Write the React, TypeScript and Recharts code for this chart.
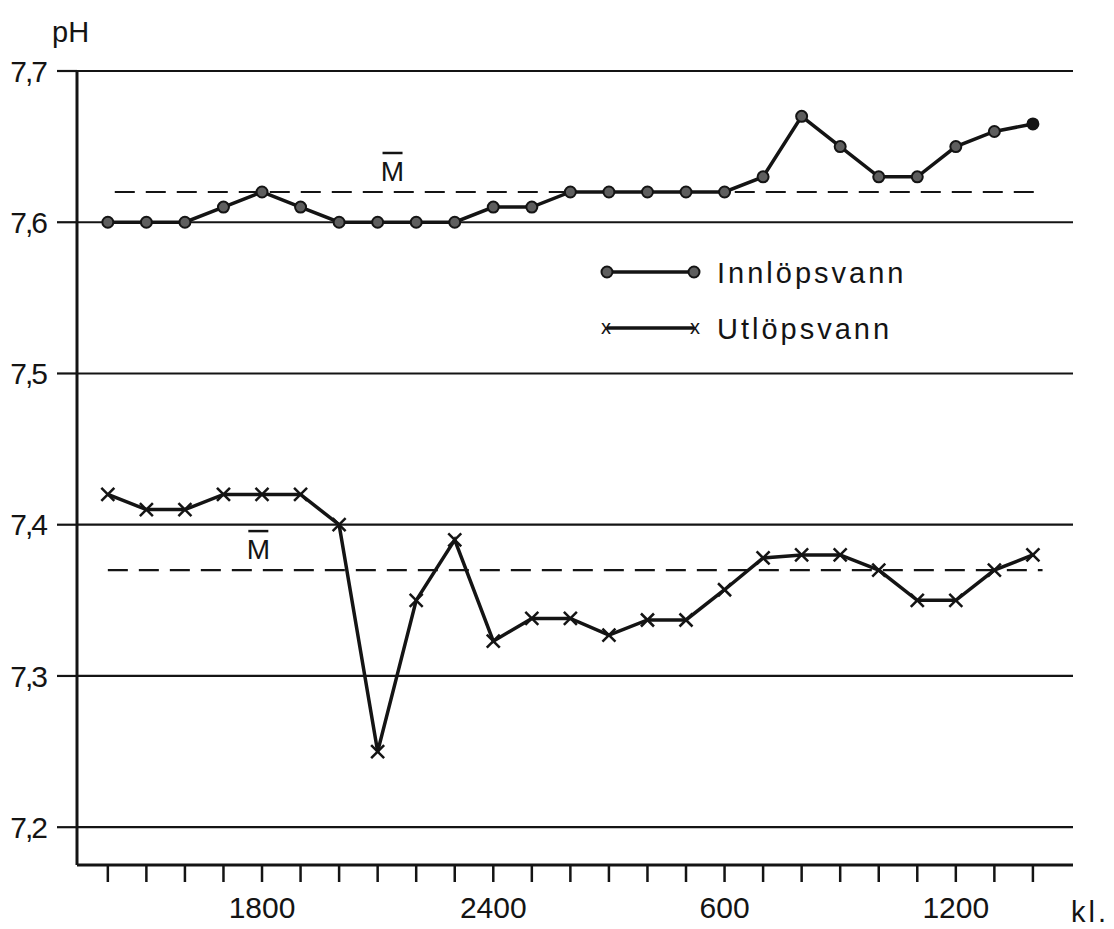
import React from 'react';
import { LineChart, Line, XAxis, YAxis, CartesianGrid, ReferenceLine, Legend } from 'recharts';

// hourly samples, kl. 1400 one day to kl. 1400 the next
const hours = [
  '1400', '1500', '1600', '1700', '1800', '1900', '2000', '2100', '2200', '2300', '2400',
  '100', '200', '300', '400', '500', '600', '700', '800', '900', '1000', '1100', '1200', '1300', '1400',
];
const labelledHours = ['1800', '2400', '600', '1200'];

const innlop = [
  7.60, 7.60, 7.60, 7.61, 7.62, 7.61, 7.60, 7.60, 7.60, 7.60, 7.61, 7.61, 7.62,
  7.62, 7.62, 7.62, 7.62, 7.63, 7.67, 7.65, 7.63, 7.63, 7.65, 7.66, 7.665,
];
const utlop = [
  7.42, 7.41, 7.41, 7.42, 7.42, 7.42, 7.40, 7.25, 7.35, 7.39, 7.323, 7.338, 7.338,
  7.327, 7.337, 7.337, 7.357, 7.378, 7.38, 7.38, 7.37, 7.35, 7.35, 7.37, 7.38,
];
const seriesNames = ['Innlöpsvann', 'Utlöpsvann'];
const meanInnlop = 7.62;
const meanUtlop = 7.37;
const yTicks = [7.2, 7.3, 7.4, 7.5, 7.6, 7.7];

const data = hours.map((h, i) => ({ x: i, hour: h, innlop: innlop[i], utlop: utlop[i] }));

const INK = '#141414';
const FONT = '"Liberation Sans", Arial, sans-serif';

const CircleDot = (props: any) => {
  const { cx, cy, index } = props;
  if (cx == null || cy == null) return null;
  const last = index === innlop.length - 1;
  return <circle key={`c${index}`} cx={cx} cy={cy} r={5.5} fill={last ? INK : '#5e5e5e'} stroke={INK} strokeWidth={2} />;
};

const CrossDot = (props: any) => {
  const { cx, cy, index } = props;
  if (cx == null || cy == null) return null;
  const s = 6.5;
  return (
    <g key={`x${index}`}>
      <line x1={cx - s} y1={cy - s} x2={cx + s} y2={cy + s} stroke={INK} strokeWidth={2.5} />
      <line x1={cx - s} y1={cy + s} x2={cx + s} y2={cy - s} stroke={INK} strokeWidth={2.5} />
    </g>
  );
};

const MeanLabel = (props: any) => {
  const { viewBox, frac } = props;
  if (!viewBox) return null;
  const cx = viewBox.x + viewBox.width * frac;
  const y = viewBox.y - 11;
  return (
    <g>
      <line x1={cx - 10} x2={cx + 10} y1={y - 28} y2={y - 28} stroke={INK} strokeWidth={2.5} />
      <text x={cx} y={y} textAnchor="middle" fontFamily={FONT} fontSize={28} fill={INK}>M</text>
    </g>
  );
};

const PhLabel = (props: any) => {
  const { viewBox } = props;
  if (!viewBox) return null;
  return (
    <text x={viewBox.x + 52} y={viewBox.y - 29} fontFamily={FONT} fontSize={29} fill={INK}>pH</text>
  );
};

const KlLabel = (props: any) => {
  const { viewBox } = props;
  if (!viewBox) return null;
  return (
    <text x={viewBox.x + viewBox.width - 2} y={viewBox.y + 57} fontFamily={FONT} fontSize={29} letterSpacing={3} fill={INK}>kl.</text>
  );
};

const renderLegend = () => (
  <svg width={330} height={100}>
    {seriesNames.map((name, i) => {
      const y = 24 + i * 56;
      return (
        <g key={name}>
          <line x1={9} x2={96} y1={y} y2={y} stroke={INK} strokeWidth={3.5} />
          {i === 0 ? (
            <>
              <circle cx={9} cy={y} r={5.5} fill="#5e5e5e" stroke={INK} strokeWidth={2} />
              <circle cx={96} cy={y} r={5.5} fill="#5e5e5e" stroke={INK} strokeWidth={2} />
            </>
          ) : (
            <>
              <text x={8} y={y + 6} textAnchor="middle" fontFamily={FONT} fontSize={20} fill={INK}>x</text>
              <text x={97} y={y + 6} textAnchor="middle" fontFamily={FONT} fontSize={20} fill={INK}>x</text>
            </>
          )}
          <text x={119} y={y + 11} fontFamily={FONT} fontSize={29} letterSpacing={3} fill={INK}>{name}</text>
        </g>
      );
    })}
  </svg>
);

export default function App() {
  return (
    <div style={{ position: 'absolute', left: 0, top: 0, background: '#fff' }}>
      <LineChart width={1114} height={929} data={data} margin={{ top: 71, right: 41, left: 0, bottom: 14 }}>
        <CartesianGrid yAxisId="l" vertical={false} stroke={INK} strokeWidth={2.2} />
        <XAxis
          dataKey="x"
          type="number"
          domain={[-0.8, 25.04]}
          allowDataOverflow
          ticks={hours.map((_, i) => i)}
          interval={0}
          tickFormatter={(v: number) => (labelledHours.includes(hours[v]) ? hours[v] : '')}
          tickSize={17}
          tickMargin={15}
          height={50}
          axisLine={{ stroke: INK, strokeWidth: 3 }}
          tickLine={{ stroke: INK, strokeWidth: 2.5 }}
          tick={{ fill: INK, fontSize: 30, fontFamily: FONT }}
          label={<KlLabel />}
        />
        <YAxis
          yAxisId="l"
          domain={[7.175, 7.7]}
          allowDataOverflow
          ticks={yTicks}
          interval={0}
          width={77}
          tickSize={20}
          tickMargin={11}
          tickFormatter={(v: number) => v.toFixed(1).replace('.', ',')}
          axisLine={{ stroke: INK, strokeWidth: 3 }}
          tickLine={{ stroke: INK, strokeWidth: 2.2 }}
          tick={{ fill: INK, fontSize: 30, fontFamily: FONT, letterSpacing: -2 }}
          label={<PhLabel />}
        />
        <YAxis
          yAxisId="r"
          orientation="right"
          domain={[7.175, 7.7]}
          width={0}
          tick={false}
          tickLine={false}
          axisLine={{ stroke: INK, strokeWidth: 3 }}
        />
        <ReferenceLine
          yAxisId="l"
          segment={[{ x: 0.18, y: meanInnlop }, { x: 24.2, y: meanInnlop }]}
          stroke={INK}
          strokeWidth={2.2}
          strokeDasharray="20 11"
          label={<MeanLabel frac={0.3} />}
        />
        <ReferenceLine
          yAxisId="l"
          segment={[{ x: 0, y: meanUtlop }, { x: 24.25, y: meanUtlop }]}
          stroke={INK}
          strokeWidth={2.2}
          strokeDasharray="20 11"
          label={<MeanLabel frac={0.161} />}
        />
        <Line
          yAxisId="l"
          type="linear"
          dataKey="innlop"
          name={seriesNames[0]}
          stroke={INK}
          strokeWidth={3.5}
          dot={CircleDot}
          activeDot={false}
          isAnimationActive={false}
        />
        <Line
          yAxisId="l"
          type="linear"
          dataKey="utlop"
          name={seriesNames[1]}
          stroke={INK}
          strokeWidth={3.5}
          dot={CrossDot}
          activeDot={false}
          isAnimationActive={false}
        />
        <Legend
          content={renderLegend}
          verticalAlign="middle"
          align="center"
          wrapperStyle={{ position: 'absolute', left: 598, top: 248, width: 330, height: 100 }}
        />
      </LineChart>
    </div>
  );
}
